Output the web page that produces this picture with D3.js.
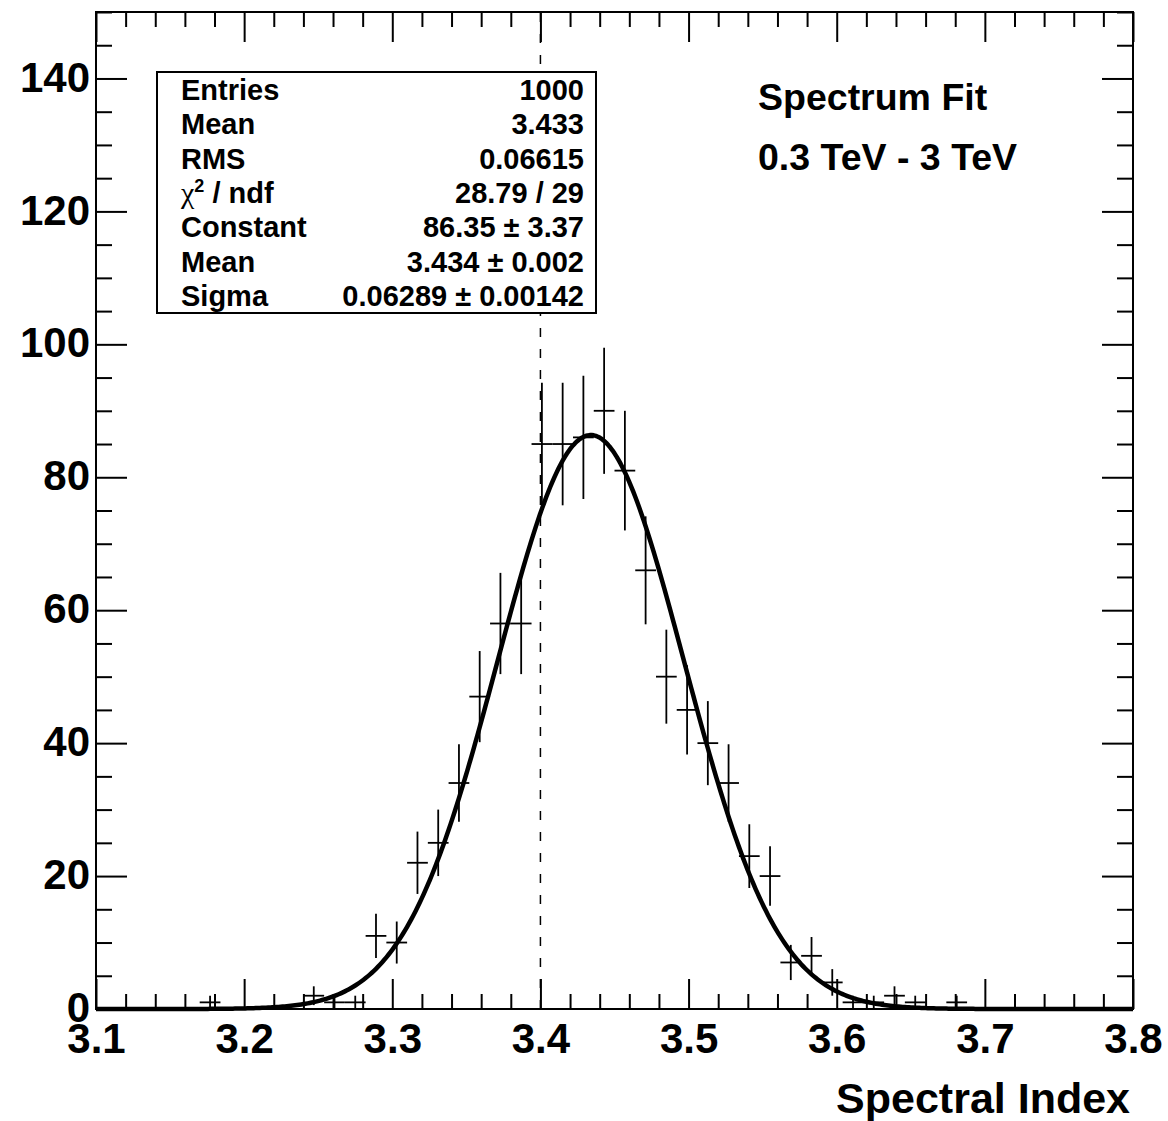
<!DOCTYPE html>
<html>
<head>
<meta charset="utf-8">
<script src="https://cdn.jsdelivr.net/npm/d3@7"></script>
<style>
  body { margin: 0; background: #fff; }
  text { font-family: "Liberation Sans", Arial, Helvetica, sans-serif; font-weight: bold; fill: #000; }
</style>
</head>
<body>
<div id="chart"></div>
<script>
/* DATA */
const xRange = [3.1, 3.8];
const nBins = 50;
// histogram counts, one per bin of width 0.014
const counts = [
  0, 0, 0, 0, 0, 1, 0, 0, 0, 0,
  2, 1, 1, 11, 10, 22, 25, 34, 47, 58,
  58, 85, 85, 86, 90, 81, 66, 50, 45, 40,
  34, 23, 20, 7, 8, 4, 1, 1, 2, 1,
  0, 1, 0, 0, 0, 0, 0, 0, 0, 0
];
const xTicks = [3.1, 3.2, 3.3, 3.4, 3.5, 3.6, 3.7, 3.8];
const yTicks = [0, 20, 40, 60, 80, 100, 120, 140];
// gaussian fit parameters (from the stats box)
const fitConstant = 86.35, fitMean = 3.434, fitSigma = 0.06289;
const cutValue = 3.4;
const statLabels = ["Entries", "Mean", "RMS", "chi2", "Constant", "Mean", "Sigma"];
const statValues = ["1000", "3.433", "0.06615", "28.79 / 29", "86.35 \u00b1 3.37", "3.434 \u00b1 0.002", "0.06289 \u00b1 0.00142"];
const titleLines = ["Spectrum Fit", "0.3 TeV - 3 TeV"];

/* CONSTANTS */
const width = 1168, height = 1121;
const frame = { left: 96, right: 1133, top: 12, bottom: 1009 };

const svg = d3.select("#chart").append("svg")
  .attr("width", width)
  .attr("height", height);

const xScale = d3.scaleLinear().domain(xRange).range([frame.left, frame.right]);
const yScale = d3.scaleLinear().domain([0, 150]).range([frame.bottom, frame.top]);

const binWidth = (xRange[1] - xRange[0]) / nBins;
const bins = counts.map((c, i) => ({ x: xRange[0] + binWidth * (i + 0.5), n: c }));

// minor tick positions
const xMinor = d3.range(0, 36).map(i => 3.1 + i * 0.02).filter(v => Math.abs(Math.round(v * 10) / 10 - v) > 1e-6);
const yMinor = d3.range(0, 31).map(i => i * 5).filter(v => v % 20 !== 0);

function styleAxis(g) {
  g.select(".domain").remove();
  g.selectAll("line").attr("stroke", "#000").attr("stroke-width", 2);
}

// dashed cut line
svg.append("line")
  .attr("x1", xScale(cutValue)).attr("x2", xScale(cutValue))
  .attr("y1", frame.bottom).attr("y2", frame.top)
  .attr("stroke", "#000").attr("stroke-width", 1.5)
  .attr("stroke-dasharray", "9,12");

// axes: bottom
svg.append("g")
  .attr("transform", `translate(0,${frame.bottom})`)
  .call(d3.axisBottom(xScale).tickValues(xTicks).tickSize(-30).tickPadding(14).tickFormat(d3.format(".1f")))
  .call(styleAxis)
  .call(g => g.selectAll("text").attr("font-size", 42).style("font-family", '"Liberation Sans", Arial, sans-serif').style("font-weight", "bold"));
svg.append("g")
  .attr("transform", `translate(0,${frame.bottom})`)
  .call(d3.axisBottom(xScale).tickValues(xMinor).tickSize(-15).tickFormat(""))
  .call(styleAxis);
// top
svg.append("g")
  .attr("transform", `translate(0,${frame.top})`)
  .call(d3.axisTop(xScale).tickValues(xTicks).tickSize(-30).tickFormat(""))
  .call(styleAxis);
svg.append("g")
  .attr("transform", `translate(0,${frame.top})`)
  .call(d3.axisTop(xScale).tickValues(xMinor).tickSize(-15).tickFormat(""))
  .call(styleAxis);
// left
svg.append("g")
  .attr("transform", `translate(${frame.left},0)`)
  .call(d3.axisLeft(yScale).tickValues(yTicks).tickSize(-31).tickPadding(6))
  .call(styleAxis)
  .call(g => g.selectAll("text").attr("font-size", 42).attr("dy", "0.3em").style("font-family", '"Liberation Sans", Arial, sans-serif').style("font-weight", "bold"));
svg.append("g")
  .attr("transform", `translate(${frame.left},0)`)
  .call(d3.axisLeft(yScale).tickValues(yMinor).tickSize(-16).tickFormat(""))
  .call(styleAxis);
// right
svg.append("g")
  .attr("transform", `translate(${frame.right},0)`)
  .call(d3.axisRight(yScale).tickValues(yTicks).tickSize(-31).tickFormat(""))
  .call(styleAxis);
svg.append("g")
  .attr("transform", `translate(${frame.right},0)`)
  .call(d3.axisRight(yScale).tickValues(yMinor).tickSize(-16).tickFormat(""))
  .call(styleAxis);

// frame
svg.append("rect")
  .attr("x", frame.left).attr("y", frame.top)
  .attr("width", frame.right - frame.left).attr("height", frame.bottom - frame.top)
  .attr("fill", "none").attr("stroke", "#000").attr("stroke-width", 2);

// histogram error crosses
const pts = svg.append("g").attr("stroke", "#000").attr("stroke-width", 1.8);
const filled = bins.filter(d => d.n > 0);
pts.selectAll("line.h")
  .data(filled)
  .join("line")
  .attr("class", "h")
  .attr("x1", d => xScale(d.x - binWidth / 2))
  .attr("x2", d => xScale(d.x + binWidth / 2))
  .attr("y1", d => yScale(d.n))
  .attr("y2", d => yScale(d.n));
pts.selectAll("line.v")
  .data(filled)
  .join("line")
  .attr("class", "v")
  .attr("x1", d => xScale(d.x))
  .attr("x2", d => xScale(d.x))
  .attr("y1", d => yScale(d.n - Math.sqrt(d.n)))
  .attr("y2", d => yScale(d.n + Math.sqrt(d.n)));

// fit curve
const fitX = d3.range(0, 501).map(i => xRange[0] + (xRange[1] - xRange[0]) * i / 500);
const gauss = x => fitConstant * Math.exp(-0.5 * Math.pow((x - fitMean) / fitSigma, 2));
svg.append("path")
  .datum(fitX)
  .attr("fill", "none")
  .attr("stroke", "#000")
  .attr("stroke-width", 4.5)
  .attr("stroke-linejoin", "round")
  .attr("d", d3.line().x(d => xScale(d)).y(d => yScale(gauss(d))));

// stats box
const box = { x: 157, y: 72, w: 439, h: 241 };
svg.append("rect")
  .attr("x", box.x).attr("y", box.y).attr("width", box.w).attr("height", box.h)
  .attr("fill", "#fff").attr("stroke", "#000").attr("stroke-width", 2);
const rowH = box.h / statLabels.length;
const rows = svg.append("g").attr("font-size", 29);
statLabels.forEach((lab, i) => {
  const cy = box.y + rowH * (i + 0.5);
  const t = rows.append("text").attr("x", 181).attr("y", cy + 10.5);
  if (lab === "chi2") {
    t.append("tspan").text("\u03c7").attr("font-size", 30).style("font-family", '"Liberation Serif", "Times New Roman", serif').style("font-weight", "normal");
    t.append("tspan").text("2").attr("font-size", 18).attr("dy", -11);
    t.append("tspan").text(" / ndf").attr("dy", 11);
  } else {
    t.text(lab);
  }
  rows.append("text")
    .attr("x", 584).attr("y", cy + 10.5)
    .attr("text-anchor", "end")
    .text(statValues[i]);
});

// title text
svg.append("g").attr("font-size", 37.5)
  .selectAll("text")
  .data(titleLines)
  .join("text")
  .attr("x", 758)
  .attr("y", (d, i) => 96 + i * 60)
  .attr("dy", "0.36em")
  .text(d => d);

// axis title
svg.append("text")
  .attr("x", 1130).attr("y", 1113)
  .attr("text-anchor", "end")
  .attr("font-size", 43)
  .text("Spectral Index");
</script>
</body>
</html>
